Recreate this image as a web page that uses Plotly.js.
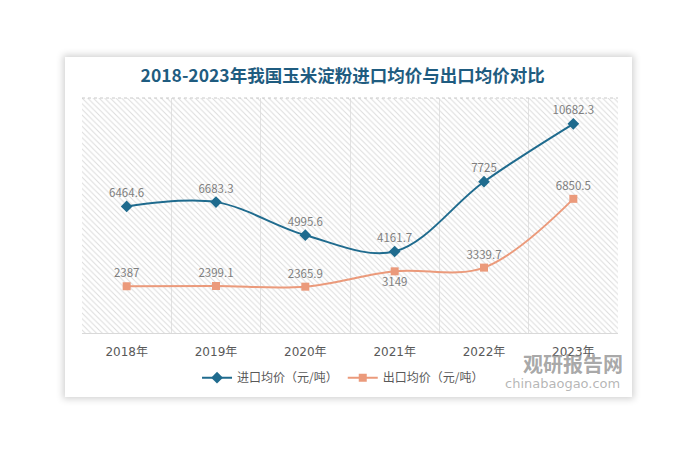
<!DOCTYPE html>
<html><head><meta charset="utf-8">
<script src="https://cdn.plot.ly/plotly-3.0.1.min.js"></script>
<style>
html,body{margin:0;padding:0;background:#ffffff;}
#card{position:absolute;left:65px;top:57px;width:567px;height:340px;background:#fff;box-shadow:0 0 7px 2px rgba(0,0,0,0.18);}
#chart{position:absolute;left:0;top:0;width:695px;height:457px;}
</style></head>
<body>
<div id="card"></div>
<div id="chart"></div>
<script>
const years = ['2018年','2019年','2020年','2021年','2022年','2023年'];
const importPrice = [6464.6, 6683.3, 4995.6, 4161.7, 7725, 10682.3];
const exportPrice = [2387, 2399.1, 2365.9, 3149, 3339.7, 6850.5];
const importName = '进口均价（元/吨）';
const exportName = '出口均价（元/吨）';
const titleText = '2018-2023年我国玉米淀粉进口均价与出口均价对比';

const cjk = '"Noto Sans CJK SC", "Noto Sans", sans-serif';

const hatch = {
  type:'bar', x:[0.5], y:[1], width:[1], xaxis:'x', yaxis:'y',
  marker:{color:'rgba(0,0,0,0)', line:{width:0},
    pattern:{shape:'\\', fgcolor:'#dcdcdc', bgcolor:'rgba(0,0,0,0)', size:4, solidity:0.25}},
  hoverinfo:'skip', showlegend:false
};

const tImport = {
  type:'scatter', mode:'lines+markers+text', name:importName,
  x:years, y:importPrice, xaxis:'x2', yaxis:'y2',
  line:{color:'#1f6b8e', width:2, shape:'spline', smoothing:1},
  marker:{symbol:'diamond', size:9, color:'#1f6b8e'},
  text:importPrice.map(String), textposition:'top center',
  textfont:{family:cjk, size:11.5, color:'#7f7f7f'},
  cliponaxis:false
};
const tExport = {
  type:'scatter', mode:'lines+markers+text', name:exportName,
  x:years, y:exportPrice, xaxis:'x2', yaxis:'y2',
  line:{color:'#eb9a7b', width:2, shape:'spline', smoothing:1},
  marker:{symbol:'square', size:8, color:'#eb9a7b'},
  text:exportPrice.map(String),
  textposition:exportPrice.map((v,i)=> i===3 ? 'bottom center' : 'top center'),
  textfont:{family:cjk, size:11.5, color:'#7f7f7f'},
  cliponaxis:false
};

const layout = {
  width:695, height:457,
  paper_bgcolor:'rgba(0,0,0,0)', plot_bgcolor:'rgba(0,0,0,0)',
  margin:{l:82, r:77, t:98, b:124},
  title:{text:'<b>'+titleText+'</b>', x:0.493, xref:'container', y:0.834, yref:'container',
    xanchor:'center', yanchor:'middle',
    font:{family:cjk, size:17.5, color:'#1f5c80'}},
  xaxis:{range:[0,1], visible:false, fixedrange:true},
  yaxis:{range:[0,1], visible:false, fixedrange:true},
  xaxis2:{overlaying:'x', anchor:'y2', type:'category', range:[-0.5,5.5], tickson:'boundaries',
    showgrid:true, gridcolor:'#e2e2e2', gridwidth:1,
    showline:true, linecolor:'#d9d9d9', linewidth:1,
    ticks:'', ticklabelstandoff:8,
    tickfont:{family:'"DejaVu Sans", "Noto Sans CJK SC", sans-serif', size:12, color:'#595959'}, zeroline:false},
  yaxis2:{overlaying:'y', anchor:'x2', range:[0,12000], visible:false, showgrid:false},
  showlegend:true,
  legend:{orientation:'h', x:0.487, xanchor:'center', y:-0.19, yanchor:'middle',
    font:{family:cjk, size:12, color:'#595959'}, itemwidth:30, tracegroupgap:0,
    bgcolor:'rgba(0,0,0,0)'},
  shapes:[
    {type:'line', xref:'x domain', yref:'y domain', x0:0, x1:1, y0:1, y1:1,
     line:{color:'#c8c8c8', width:1, dash:'dot'}}
  ],
  annotations:[
    {text:'<b>观研报告网</b>', xref:'paper', yref:'paper', x:1.013, y:-0.13, xanchor:'right', yanchor:'middle',
     showarrow:false, font:{family:cjk, size:20, color:'rgba(130,130,130,0.7)'}},
    {text:'chinabaogao.com', xref:'paper', yref:'paper', x:1.008, y:-0.213, xanchor:'right', yanchor:'middle',
     showarrow:false, font:{family:'"DejaVu Sans", sans-serif', size:13, color:'rgba(150,150,150,0.7)'}}
  ]
};

Plotly.newPlot('chart', [hatch, tImport, tExport], layout, {displayModeBar:false, staticPlot:true});
</script>
</body></html>
